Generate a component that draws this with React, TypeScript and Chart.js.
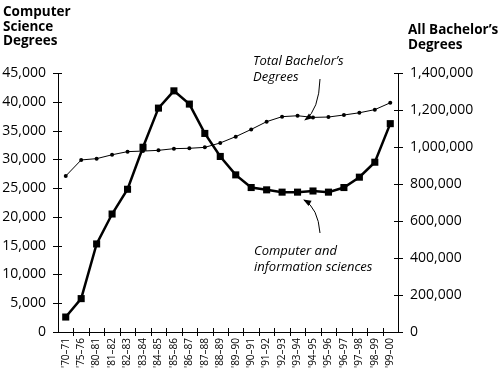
import React, { useEffect, useRef } from "react";
import { Chart, registerables } from "chart.js";

Chart.register(...registerables);

const categories = [
  "'70–71", "'75–76", "'80–81", "'81–82", "'82–83", "'83–84", "'84–85", "'85–86",
  "'86–87", "'87–88", "'88–89", "'89–90", "'90–91", "'91–92", "'92–93", "'93–94",
  "'94–95", "'95–96", "'96–97", "'97–98", "'98–99", "'99–00",
];

const csDegrees = [
  2600, 5800, 15300, 20500, 24800, 32100, 38900, 41900, 39600, 34500, 30500,
  27300, 25100, 24700, 24300, 24300, 24500, 24300, 25100, 26900, 29500, 36200,
];

const totalBachelors = [
  843000, 930000, 937000, 958000, 975000, 978000, 982000, 991000, 993000, 998000,
  1022000, 1056000, 1095000, 1137000, 1164000, 1169000, 1160000, 1162000, 1173000,
  1185000, 1202000, 1239000,
];

const leftTitle = ["Computer", "Science", "Degrees"];
const rightTitle = ["All Bachelor’s", "Degrees"];
const totalNote = ["Total Bachelor’s", "Degrees"];
const csNote = ["Computer and", "information sciences"];

const FONT = "'Open Sans', 'DejaVu Sans', sans-serif";

function arrow(ctx: CanvasRenderingContext2D, sx: number, sy: number, cx: number, cy: number, ex: number, ey: number) {
  ctx.beginPath();
  ctx.moveTo(sx, sy);
  ctx.quadraticCurveTo(cx, cy, ex, ey);
  ctx.stroke();
  const ang = Math.atan2(ey - cy, ex - cx);
  const len = 7;
  const w = 3;
  ctx.beginPath();
  ctx.moveTo(ex + Math.cos(ang) * 1, ey + Math.sin(ang) * 1);
  ctx.lineTo(ex - Math.cos(ang) * len - Math.sin(ang) * w, ey - Math.sin(ang) * len + Math.cos(ang) * w);
  ctx.lineTo(ex - Math.cos(ang) * len + Math.sin(ang) * w, ey - Math.sin(ang) * len - Math.cos(ang) * w);
  ctx.closePath();
  ctx.fill();
}

const decorPlugin = {
  id: "decor",
  afterDraw(chart: any) {
    const ctx: CanvasRenderingContext2D = chart.ctx;
    const xs = chart.scales.x;
    const yl = chart.scales.yL;
    const yr = chart.scales.yR;
    ctx.save();
    ctx.strokeStyle = "#000";
    ctx.fillStyle = "#000";
    ctx.lineWidth = 1;
    ctx.beginPath();
    for (let i = 1; i < categories.length; i++) {
      const px = Math.round((xs.getPixelForValue(i - 1) + xs.getPixelForValue(i)) / 2) + 0.5;
      ctx.moveTo(px, xs.top - 4);
      ctx.lineTo(px, xs.top + 4);
    }
    yl.ticks.forEach((t: any) => {
      const py = Math.round(yl.getPixelForValue(t.value)) + 0.5;
      ctx.moveTo(yl.right - 5, py);
      ctx.lineTo(yl.right + 4, py);
    });
    yr.ticks.forEach((t: any) => {
      const py = Math.round(yr.getPixelForValue(t.value)) + 0.5;
      ctx.moveTo(yr.left - 4, py);
      ctx.lineTo(yr.left + 5, py);
    });
    ctx.stroke();

    // titles
    ctx.textAlign = "left";
    ctx.textBaseline = "alphabetic";
    ctx.font = `bold 13.5px ${FONT}`;
    leftTitle.forEach((s, i) => ctx.fillText(s, 3, 16 + i * 14.5));
    rightTitle.forEach((s, i) => ctx.fillText(s, 408, 34 + i * 14.5));

    // annotations
    ctx.font = `italic 13px ${FONT}`;
    totalNote.forEach((s, i) => ctx.fillText(s, 253, 65 + i * 16));
    csNote.forEach((s, i) => ctx.fillText(s, 254, 255 + i * 15.5));

    ctx.lineWidth = 1;
    arrow(ctx, 320, 79, 319, 110, 305, 120);
    arrow(ctx, 320, 233, 318, 208, 304, 200);
    ctx.restore();
  },
};

export default function App() {
  const ref = useRef<HTMLCanvasElement | null>(null);

  useEffect(() => {
    if (!ref.current) return;
    Chart.defaults.font.family = FONT;
    Chart.defaults.color = "#000";
    const chart = new Chart(ref.current, {
      type: "line",
      data: {
        labels: categories,
        datasets: [
          {
            label: "Computer and information sciences",
            data: csDegrees,
            yAxisID: "yL",
            borderColor: "#000",
            backgroundColor: "#000",
            borderWidth: 2.5,
            pointStyle: "rect",
            pointRadius: 5,
            pointBorderWidth: 0,
            tension: 0,
          },
          {
            label: "Total Bachelor's Degrees",
            data: totalBachelors,
            yAxisID: "yR",
            borderColor: "#000",
            backgroundColor: "#000",
            borderWidth: 1,
            pointStyle: "circle",
            pointRadius: 2,
            pointBorderWidth: 0,
            tension: 0,
          },
        ],
      },
      options: {
        responsive: false,
        animation: false,
        layout: { padding: { top: 73, left: 0, right: 0, bottom: 0 } },
        plugins: { legend: { display: false }, tooltip: { enabled: false }, title: { display: false } },
        scales: {
          x: {
            type: "category",
            offset: true,
            grid: { display: true, drawOnChartArea: false, drawTicks: false, offset: true },
            border: { display: true, color: "#000", width: 1 },
            ticks: {
              autoSkip: false,
              maxRotation: 90,
              minRotation: 90,
              padding: 6,
              font: { size: 10 },
              color: "#000",
            },
            afterFit: (s: any) => { s.height = 38; },
          },
          yL: {
            type: "linear",
            position: "left",
            min: 0,
            max: 45000,
            grid: { display: true, drawOnChartArea: false, drawTicks: false },
            border: { display: true, color: "#000", width: 1 },
            ticks: {
              stepSize: 5000,
              padding: 12,
              font: { size: 14 },
              color: "#000",
              callback: (v: any) => Number(v).toLocaleString("en-US"),
            },
            afterFit: (s: any) => { s.width = 58; },
          },
          yR: {
            type: "linear",
            position: "right",
            min: 0,
            max: 1400000,
            grid: { display: true, drawOnChartArea: false, drawTicks: false },
            border: { display: true, color: "#000", width: 1 },
            ticks: {
              stepSize: 200000,
              padding: 12,
              font: { size: 14 },
              color: "#000",
              callback: (v: any) => Number(v).toLocaleString("en-US"),
            },
            afterFit: (s: any) => { s.width = 102; },
          },
        },
      },
      plugins: [decorPlugin],
    });
    return () => chart.destroy();
  }, []);

  return (
    <div style={{ position: "absolute", left: 0, top: 0, width: 500, height: 370, background: "#fff" }}>
      <canvas ref={ref} width={500} height={370} style={{ display: "block" }} />
    </div>
  );
}
